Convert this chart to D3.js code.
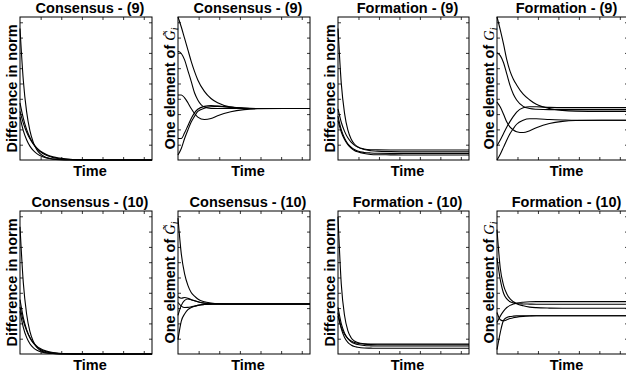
<!DOCTYPE html>
<html>
<head>
  <meta charset="utf-8">
  <title>Consensus / Formation</title>
  <style>
  body { margin: 0; background: #fff; }
  text { font-family: "Liberation Sans", Arial, sans-serif; font-weight: bold; fill: #000; }
  .tick line { stroke: #000; stroke-width: 0.8px; }
  .curve { fill: none; stroke: #000; stroke-width: 1.1px; }
  </style>
</head>
<body>
  <svg width="626" height="379"></svg>
  <script src="https://d3js.org/d3.v7.min.js"></script>
  <script>
  // sample times (same for every curve)
  var tSamples = [0, 0.16, 0.32, 0.48, 0.64, 0.8, 0.96, 1.28, 1.6, 1.92, 2.56, 3.2, 3.84, 5.12, 6.4];

  // tick positions (no labels in the figure)
  var xTicks = [1, 2, 3, 4, 5, 6];
  var yTicks = [0.107, 0.214, 0.321, 0.428, 0.535, 0.642, 0.749, 0.856, 0.963];

  var titles = ["Consensus - (9)", "Consensus - (9)", "Formation - (9)", "Formation - (9)",
                "Consensus - (10)", "Consensus - (10)", "Formation - (10)", "Formation - (10)"];

  // difference in norm, consensus (9)
  var consensus9Norm = [
    [0.92, 0.558, 0.338, 0.205, 0.125, 0.075, 0.046, 0.017, 0.006, 0.002, 0, 0, 0, 0, 0],
    [0.40, 0.293, 0.214, 0.157, 0.115, 0.084, 0.061, 0.033, 0.018, 0.009, 0.003, 0.001, 0, 0, 0],
    [0.34, 0.258, 0.196, 0.149, 0.113, 0.086, 0.065, 0.038, 0.022, 0.013, 0.004, 0.0014, 0.0005, 0, 0],
    [0.30, 0.206, 0.142, 0.097, 0.067, 0.046, 0.032, 0.015, 0.007, 0.003, 0.001, 0, 0, 0, 0]
  ];
  // one element of G~i, consensus (9)
  var consensus9Elem = [
    [1.0, 0.93, 0.85, 0.77, 0.69, 0.62, 0.56, 0.48, 0.43, 0.40, 0.37, 0.362, 0.36, 0.36, 0.36],
    [0.76, 0.745, 0.70, 0.625, 0.55, 0.47, 0.42, 0.37, 0.36, 0.36, 0.36, 0.36, 0.36, 0.36, 0.36],
    [0.455, 0.455, 0.435, 0.40, 0.36, 0.325, 0.30, 0.283, 0.29, 0.31, 0.338, 0.352, 0.358, 0.36, 0.36],
    [0.15, 0.15, 0.19, 0.24, 0.29, 0.33, 0.355, 0.375, 0.38, 0.378, 0.368, 0.362, 0.36, 0.36, 0.36],
    [0.035, 0.08, 0.15, 0.21, 0.265, 0.305, 0.34, 0.362, 0.372, 0.375, 0.37, 0.363, 0.36, 0.36, 0.36]
  ];
  // difference in norm, formation (9)
  var formation9Norm = [
    [0.92, 0.536, 0.326, 0.21, 0.147, 0.112, 0.093, 0.077, 0.072, 0.071, 0.07, 0.07, 0.07, 0.07, 0.07],
    [0.358, 0.264, 0.2, 0.155, 0.125, 0.104, 0.09, 0.073, 0.065, 0.061, 0.059, 0.058, 0.058, 0.058, 0.058],
    [0.306, 0.212, 0.152, 0.113, 0.089, 0.073, 0.063, 0.053, 0.049, 0.047, 0.046, 0.046, 0.046, 0.046, 0.046],
    [0.275, 0.196, 0.143, 0.107, 0.083, 0.067, 0.057, 0.045, 0.039, 0.037, 0.036, 0.035, 0.035, 0.035, 0.035]
  ];
  // one element of Gi, formation (9)
  var formation9Elem = [
    [1.0, 0.91, 0.81, 0.70, 0.62, 0.565, 0.525, 0.46, 0.42, 0.39, 0.36, 0.347, 0.342, 0.34, 0.34],
    [0.75, 0.73, 0.68, 0.60, 0.52, 0.46, 0.42, 0.375, 0.36, 0.355, 0.352, 0.352, 0.352, 0.352, 0.352],
    [0.405, 0.37, 0.32, 0.265, 0.23, 0.21, 0.198, 0.192, 0.205, 0.225, 0.255, 0.27, 0.276, 0.278, 0.278],
    [0.10, 0.14, 0.185, 0.23, 0.27, 0.305, 0.335, 0.365, 0.372, 0.372, 0.368, 0.366, 0.366, 0.366, 0.366],
    [0.0, 0.04, 0.09, 0.14, 0.185, 0.22, 0.25, 0.278, 0.288, 0.288, 0.283, 0.28, 0.278, 0.278, 0.278]
  ];
  // difference in norm, consensus (10)
  var consensus10Norm = [
    [0.89, 0.499, 0.28, 0.158, 0.089, 0.05, 0.028, 0.009, 0.003, 0.001, 0, 0, 0, 0, 0],
    [0.38, 0.255, 0.171, 0.114, 0.077, 0.052, 0.034, 0.015, 0.007, 0.003, 0.0006, 0, 0, 0, 0],
    [0.33, 0.232, 0.164, 0.115, 0.081, 0.057, 0.040, 0.02, 0.01, 0.005, 0.001, 0, 0, 0, 0],
    [0.30, 0.187, 0.116, 0.072, 0.045, 0.028, 0.017, 0.007, 0.003, 0.001, 0, 0, 0, 0, 0]
  ];
  // one element of G~i, consensus (10)
  var consensus10Elem = [
    [0.95, 0.70, 0.56, 0.48, 0.43, 0.405, 0.385, 0.365, 0.357, 0.352, 0.35, 0.35, 0.35, 0.35, 0.35],
    [0.40, 0.39, 0.395, 0.39, 0.38, 0.372, 0.365, 0.356, 0.352, 0.35, 0.35, 0.35, 0.35, 0.35, 0.35],
    [0.27, 0.34, 0.375, 0.385, 0.38, 0.372, 0.365, 0.355, 0.352, 0.35, 0.35, 0.35, 0.35, 0.35, 0.35],
    [0.10, 0.23, 0.28, 0.31, 0.325, 0.334, 0.34, 0.346, 0.349, 0.35, 0.35, 0.35, 0.35, 0.35, 0.35],
    [0.36, 0.335, 0.325, 0.326, 0.33, 0.335, 0.34, 0.347, 0.349, 0.35, 0.35, 0.35, 0.35, 0.35, 0.35]
  ];
  // difference in norm, formation (10)
  var formation10Norm = [
    [0.96, 0.49, 0.269, 0.164, 0.114, 0.091, 0.08, 0.072, 0.07, 0.07, 0.07, 0.07, 0.07, 0.07, 0.07],
    [0.326, 0.212, 0.146, 0.108, 0.086, 0.073, 0.066, 0.059, 0.057, 0.056, 0.056, 0.056, 0.056, 0.056, 0.056],
    [0.29, 0.177, 0.115, 0.081, 0.063, 0.052, 0.047, 0.042, 0.041, 0.04, 0.04, 0.04, 0.04, 0.04, 0.04],
    [0.265, 0.186, 0.139, 0.11, 0.092, 0.081, 0.075, 0.069, 0.066, 0.065, 0.065, 0.065, 0.065, 0.065, 0.065]
  ];
  // one element of Gi, formation (10)
  var formation10Elem = [
    [0.87, 0.60, 0.48, 0.42, 0.385, 0.365, 0.352, 0.337, 0.328, 0.324, 0.321, 0.32, 0.32, 0.32, 0.32],
    [0.67, 0.52, 0.425, 0.385, 0.365, 0.357, 0.353, 0.35, 0.349, 0.348, 0.348, 0.348, 0.348, 0.348, 0.348],
    [0.29, 0.24, 0.232, 0.24, 0.248, 0.254, 0.258, 0.263, 0.266, 0.268, 0.268, 0.268, 0.268, 0.268, 0.268],
    [0.22, 0.265, 0.30, 0.325, 0.34, 0.35, 0.356, 0.362, 0.365, 0.366, 0.366, 0.366, 0.366, 0.366, 0.366],
    [0.03, 0.15, 0.235, 0.255, 0.262, 0.265, 0.267, 0.268, 0.268, 0.268, 0.268, 0.268, 0.268, 0.268, 0.268]
  ];

  var panelData = [consensus9Norm, consensus9Elem, formation9Norm, formation9Elem,
                   consensus10Norm, consensus10Elem, formation10Norm, formation10Elem];
  // 0 = difference in norm, 1 = G~i, 2 = Gi
  var labelKind = [0, 1, 0, 2, 0, 1, 0, 2];

  var svg = d3.select("svg");
  var colLeft = [20, 178, 338, 497],
      colWidth = [132, 132, 131, 131],
      rowTop = [17, 211],
      plotH = 143;

  var line = d3.line().curve(d3.curveMonotoneX);

  panelData.forEach(function(series, i) {
    var col = i % 4, row = Math.floor(i / 4);
    var w = colWidth[col], h = plotH;
    var g = svg.append("g")
      .attr("transform", "translate(" + colLeft[col] + "," + rowTop[row] + ")");

    var x = d3.scaleLinear().domain([0, 6.4]).range([0, w]);
    var y = d3.scaleLinear().domain([0, 1]).range([h, 0]);

    line.x(function(d, j) { return x(tSamples[j]); })
        .y(function(d) { return y(d); });

    g.selectAll(".curve")
      .data(series)
      .enter().append("path")
      .attr("class", "curve")
      .attr("d", line);

    // inward ticks on every side
    var axes = [
      {a: d3.axisBottom(x).tickValues(xTicks), t: "translate(0," + h + ")"},
      {a: d3.axisTop(x).tickValues(xTicks), t: ""},
      {a: d3.axisLeft(y).tickValues(yTicks), t: ""},
      {a: d3.axisRight(y).tickValues(yTicks), t: "translate(" + w + ",0)"}
    ];
    axes.forEach(function(ax) {
      g.append("g")
        .attr("transform", ax.t)
        .call(ax.a.tickSize(-3).tickFormat(""))
        .select(".domain").remove();
    });

    g.append("rect")
      .attr("width", w).attr("height", h)
      .attr("fill", "none").attr("stroke", "#000").attr("stroke-width", 1);

    var cx = w / 2 + 4;
    g.append("text")
      .attr("x", cx).attr("y", -4)
      .attr("text-anchor", "middle")
      .style("font-size", "14.5px")
      .text(titles[i]);

    g.append("text")
      .attr("x", cx).attr("y", h + 16)
      .attr("text-anchor", "middle")
      .style("font-size", "14.5px")
      .text("Time");

    var yl = g.append("text")
      .attr("transform", "translate(-3," + (h / 2) + ") rotate(-90)")
      .attr("text-anchor", "middle")
      .style("font-size", "14.5px");
    if (labelKind[i] === 0) {
      yl.text("Difference in norm");
    } else {
      yl.append("tspan").text("One element of ");
      yl.append("tspan")
        .style("font-family", "'Liberation Serif', serif")
        .style("font-style", "italic")
        .style("font-weight", "normal")
        .text(labelKind[i] === 1 ? "G\u0303" : "G");
      yl.append("tspan")
        .attr("dy", 3)
        .style("font-family", "'Liberation Serif', serif")
        .style("font-style", "italic")
        .style("font-weight", "normal")
        .style("font-size", "10px")
        .text("i");
    }
  });
  </script>
</body>
</html>
